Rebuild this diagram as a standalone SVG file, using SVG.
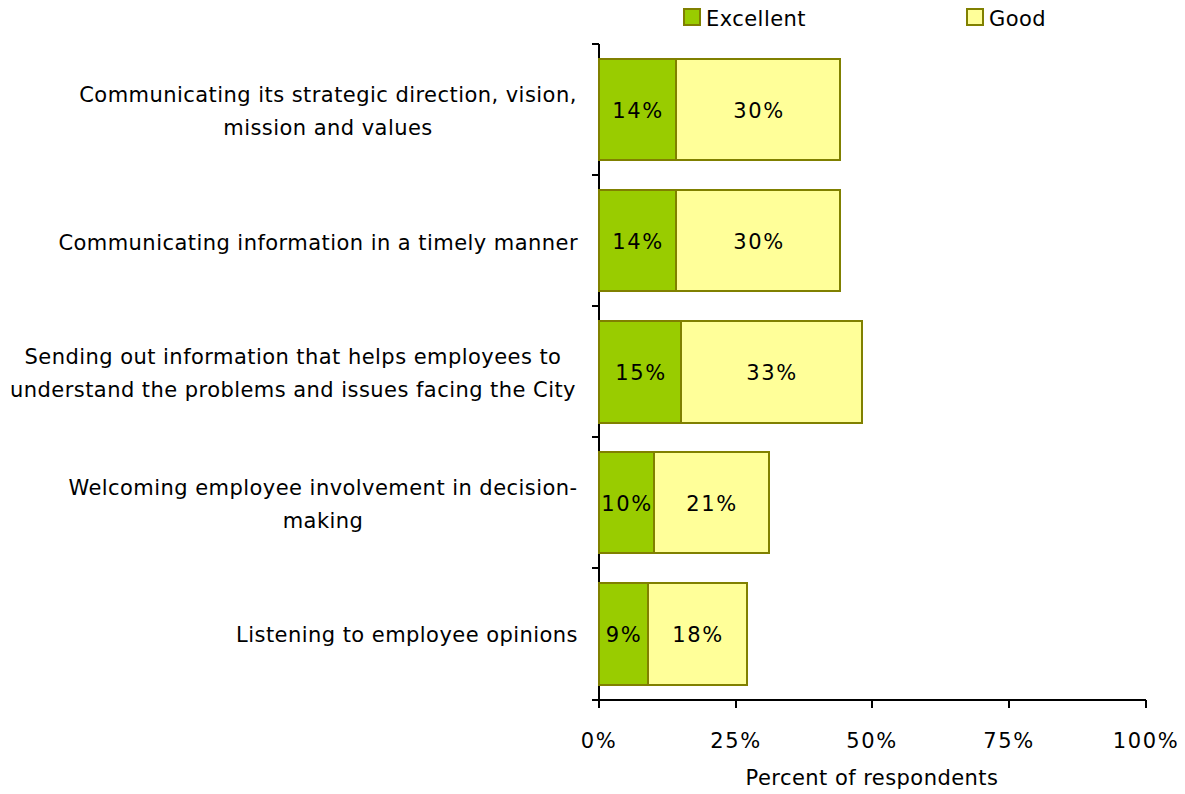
<svg xmlns="http://www.w3.org/2000/svg" width="1185" height="794" viewBox="0 0 1185 794">
<style>
text{font-family:"DejaVu Sans",Verdana,sans-serif;font-size:21px;fill:#000;letter-spacing:0.45px}
.p{letter-spacing:1.6px}
.c{text-anchor:middle}
.r{text-anchor:end}
.ex{fill:#99CC00;stroke:#808000;stroke-width:2}
.gd{fill:#FFFF99;stroke:#808000;stroke-width:2}
.ax{stroke:#000;stroke-width:2;fill:none}
</style>
<rect width="1185" height="794" fill="#fff"/>
<g id="legend">
<rect class="ex" x="684" y="9" width="16" height="16"/>
<text x="706" y="26">Excellent</text>
<rect class="gd" x="967" y="9" width="16" height="16"/>
<text x="989" y="26">Good</text>
</g>
<g id="axes">
<path class="ax" d="M599,44V700H1146M592,44H599M592,175H599M592,306H599M592,437H599M592,568H599M592,700H599M599,700V708M736,700V708M872,700V708M1009,700V708M1146,700V708"/>
<text class="c p" x="599" y="748">0%</text>
<text class="c p" x="736" y="748">25%</text>
<text class="c p" x="872" y="748">50%</text>
<text class="c p" x="1009" y="748">75%</text>
<text class="c p" x="1146" y="748">100%</text>
<text class="c" x="872" y="785">Percent of respondents</text>
</g>
<g id="cat1">
<text class="c" x="328" y="102">Communicating its strategic direction, vision,</text>
<text class="c" x="328" y="135">mission and values</text>
<rect class="ex" x="599" y="59" width="77" height="101"/>
<rect class="gd" x="676" y="59" width="164" height="101"/>
<text class="c p" x="638" y="118">14%</text>
<text class="c p" x="759" y="118">30%</text>
</g>
<g id="cat2">
<text class="r" x="578" y="250">Communicating information in a timely manner</text>
<rect class="ex" x="599" y="190" width="77" height="101"/>
<rect class="gd" x="676" y="190" width="164" height="101"/>
<text class="c p" x="638" y="249">14%</text>
<text class="c p" x="759" y="249">30%</text>
</g>
<g id="cat3">
<text class="c" x="293" y="364">Sending out information that helps employees to</text>
<text class="c" x="293" y="397">understand the problems and issues facing the City</text>
<rect class="ex" x="599" y="321" width="82" height="102"/>
<rect class="gd" x="681" y="321" width="181" height="102"/>
<text class="c p" x="641" y="380">15%</text>
<text class="c p" x="772" y="380">33%</text>
</g>
<g id="cat4">
<text class="c" x="323" y="495">Welcoming employee involvement in decision-</text>
<text class="c" x="323" y="528">making</text>
<rect class="ex" x="599" y="452" width="55" height="101"/>
<rect class="gd" x="654" y="452" width="115" height="101"/>
<text class="c p" x="627" y="511">10%</text>
<text class="c p" x="712" y="511">21%</text>
</g>
<g id="cat5">
<text class="r" x="578" y="642">Listening to employee opinions</text>
<rect class="ex" x="599" y="583" width="49" height="102"/>
<rect class="gd" x="648" y="583" width="99" height="102"/>
<text class="c p" x="624" y="642">9%</text>
<text class="c p" x="698" y="642">18%</text>
</g>
</svg>
